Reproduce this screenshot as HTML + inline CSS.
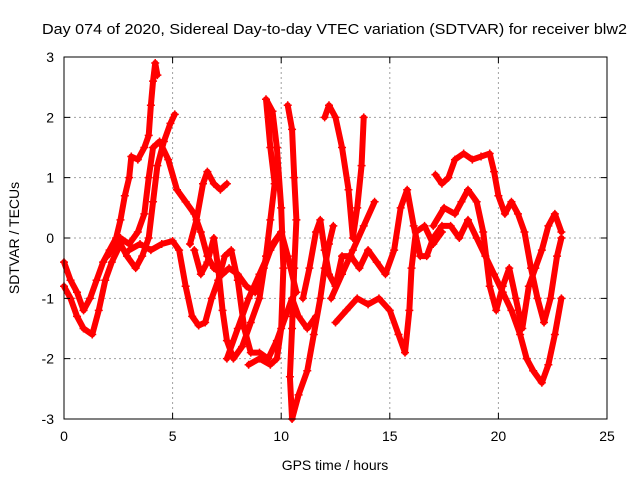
<!DOCTYPE html>
<html><head><meta charset="utf-8"><style>
html,body{margin:0;padding:0;background:#fff;}
svg{display:block;font-family:"Liberation Sans",sans-serif;}
</style></head><body>
<svg id="chart" width="640" height="480">
<rect x="0" y="0" width="640" height="480" fill="#fff"/>
<text x="42" y="34" font-size="15" textLength="585" lengthAdjust="spacingAndGlyphs">Day 074 of 2020, Sidereal Day-to-day VTEC variation (SDTVAR) for receiver blw2</text>
<text x="335" y="470" font-size="14" text-anchor="middle">GPS time / hours</text>
<text transform="translate(19,238) rotate(-90)" font-size="14" text-anchor="middle">SDTVAR / TECUs</text>
<g id="grid"></g>
<g id="marks"></g>
<rect x="64" y="57" width="543" height="362" fill="none" stroke="#000" stroke-width="1"/>
<g id="ticks"></g>
</svg>
<script>
const xTicks=[0,5,10,15,20,25];
const yTicks=[3,2,1,0,-1,-2,-3];
const s1=[[0,-0.4],[0.3,-0.7],[0.6,-0.9],[0.9,-1.2],[1.2,-1.0],[1.5,-0.7],[1.8,-0.4],[2.1,-0.2],[2.4,0],[2.6,0.3],[2.8,0.7],[3.0,1.0],[3.1,1.35],[3.4,1.3],[3.7,1.5],[3.9,1.7],[4.0,2.2],[4.1,2.6],[4.2,2.9],[4.3,2.7]];
const s2=[[0,-0.8],[0.3,-1.0],[0.6,-1.3],[0.9,-1.5],[1.3,-1.6],[1.6,-1.2],[1.9,-0.7],[2.2,-0.4],[2.6,-0.1],[2.9,-0.3],[3.3,-0.5],[3.6,-0.3],[3.9,0],[4.1,0.6],[4.3,1.2],[4.6,1.6],[4.9,1.9],[5.1,2.05]];
const s3=[[2.0,-0.3],[2.6,0],[3.0,-0.1],[3.4,0.1],[3.7,0.4],[3.9,1.0],[4.1,1.5],[4.4,1.6],[4.8,1.3],[5.2,0.8],[5.6,0.6],[6.0,0.4],[6.3,0.1],[6.6,-0.3],[6.9,-0.5],[7.3,-0.6],[7.6,-0.5],[8.0,-0.6],[8.4,-0.8],[8.8,-0.9],[9.2,-0.5],[9.6,-0.1],[10.0,0.1],[10.3,-0.3],[10.7,-0.9]];
const s4=[[3.0,-0.2],[3.5,-0.1],[4.0,-0.2],[4.5,-0.1],[5.0,-0.05],[5.3,-0.2],[5.6,-0.8],[5.9,-1.3],[6.2,-1.45],[6.5,-1.4],[6.8,-1.0],[7.1,-0.7],[7.4,-0.3],[7.7,-0.2],[8.0,-0.7],[8.3,-1.5],[8.6,-1.9],[9.0,-1.9],[9.4,-2.0],[9.8,-1.7],[10.2,-1.3],[10.5,-1.0],[10.8,-1.3],[11.2,-1.5],[11.6,-1.3]];
const s5=[[5.8,-0.1],[6.1,0.3],[6.4,0.9],[6.6,1.1],[6.9,0.9],[7.2,0.8],[7.5,0.9]];
const s6=[[6.0,-0.2],[6.3,-0.6],[6.6,-0.4],[6.9,0],[7.1,-0.5],[7.3,-1.2],[7.5,-1.7],[7.8,-2.0],[8.2,-1.8],[8.6,-1.4],[9.0,-1.0],[9.3,-0.3],[9.5,0.3],[9.7,0.9],[9.5,1.5],[9.3,2.3],[9.6,2.1],[9.8,1.5],[10.0,0.5],[10.1,-0.5],[10.0,-1.5],[9.8,-2.0],[9.5,-2.1],[9.0,-2.0],[8.5,-2.1]];
const s7=[[10.3,2.2],[10.5,1.8],[10.6,1.0],[10.7,0.3],[10.6,-0.5],[10.5,-1.5],[10.4,-2.3],[10.5,-3.0],[10.8,-2.6],[11.2,-2.2],[11.5,-1.6],[11.8,-1.0],[12.0,-0.5],[12.2,-0.1],[12.4,0.2]];
const s8=[[11.0,-1.0],[11.3,-0.5],[11.6,0.1],[11.8,0.3],[12.0,-0.2],[12.2,-0.6],[12.5,-0.8],[12.8,-0.3],[13.2,-0.3],[13.6,-0.5],[14.0,-0.2],[14.4,-0.4],[14.8,-0.6],[15.2,-0.2],[15.5,0.5],[15.8,0.8],[16.1,0.2],[16.4,-0.3],[16.7,-0.3],[17.0,0.0],[17.4,0.2],[17.8,0.2],[18.2,0],[18.6,0.3],[19.0,0.0],[19.4,-0.3],[19.8,-0.6],[20.2,-0.9],[20.6,-1.2],[21.0,-1.6],[21.3,-2.0],[21.6,-2.2],[22.0,-2.4],[22.3,-2.1],[22.6,-1.6],[22.9,-1.0]];
const s9=[[12.0,2.0],[12.2,2.2],[12.5,2.0],[12.8,1.5],[13.1,0.8],[13.3,0.0],[13.5,0.5],[13.7,1.2],[13.8,2.0]];
const s10=[[12.3,-1.0],[12.8,-0.6],[13.3,-0.2],[13.8,0.2],[14.3,0.6]];
const s11=[[12.5,-1.4],[13.0,-1.2],[13.5,-1.0],[14.0,-1.1],[14.5,-1.0],[15.0,-1.2],[15.4,-1.6],[15.7,-1.9],[15.9,-1.2],[16.0,-0.5],[16.2,0.1],[16.6,0.2],[17.0,-0.1],[17.4,0.1]];
const s12=[[17.1,1.05],[17.4,0.9],[17.7,1.0],[18.0,1.3],[18.4,1.4],[18.8,1.3],[19.2,1.35],[19.6,1.4],[19.8,1.1],[20.0,0.7],[20.3,0.4],[20.6,0.6],[20.9,0.4],[21.2,0.1],[21.5,-0.5],[21.8,-1.0],[22.1,-1.4],[22.4,-1.0],[22.7,-0.3],[22.9,0.0]];
const s13=[[17.0,0.2],[17.5,0.5],[18.0,0.4],[18.3,0.6],[18.6,0.8],[19.0,0.6],[19.3,0.1],[19.6,-0.8],[19.9,-1.2],[20.2,-0.8],[20.5,-0.5],[20.8,-1.0],[21.1,-1.5],[21.4,-0.8],[21.7,-0.5],[22.0,-0.2],[22.3,0.2],[22.6,0.4],[22.9,0.1]];
const s14=[[7.5,-2.0],[8.0,-1.5],[8.5,-1.0],[9.0,-0.6],[9.5,-0.2],[10.0,0.1]];
const series=[s1,s2,s3,s4,s5,s6,s7,s8,s9,s10,s11,s12,s13,s14];

const X0=64,X1=607,Y0=419,Y1=57;
function xs(h){return X0+(h-0)/(25-0)*(X1-X0);}
function ys(v){return Y0-(v+3)/6*(Y0-Y1);}
const NS='http://www.w3.org/2000/svg';
const grid=document.getElementById('grid'),ticks=document.getElementById('ticks'),marks=document.getElementById('marks');
function mk(tag,attrs,parent){const e=document.createElementNS(NS,tag);for(const k in attrs)e.setAttribute(k,attrs[k]);parent.appendChild(e);return e;}
xTicks.forEach(t=>{
  const x=xs(t);
  if(t>0&&t<25){const g=mk('line',{x1:x,y1:Y1,x2:x,y2:Y0,stroke:'#a0a0a0','stroke-dasharray':'2,3'},grid);
  
  }
  const tk=mk('path',{d:`M${x},${Y0}v-6M${x},${Y1}v6`,stroke:'#000'},ticks);
  
  
  const l=mk('text',{x:x,y:Y0+22,'font-size':14,'text-anchor':'middle'},ticks);l.textContent=t;
  
  
});
yTicks.forEach(t=>{
  const y=ys(t);
  if(t>-3&&t<3){const g=mk('line',{x1:X0,y1:y,x2:X1,y2:y,stroke:'#a0a0a0','stroke-dasharray':'2,3'},grid);
  
  }
  const tk=mk('path',{d:`M${X0},${y}h6M${X1},${y}h-6`,stroke:'#000'},ticks);
  
  
  const l=mk('text',{x:X0-10,y:y+5,'font-size':14,'text-anchor':'end'},ticks);l.textContent=t;
  
  
});
series.forEach((s,i)=>{
  const p=mk('polyline',{points:s.map(d=>xs(d[0])+','+ys(d[1])).join(' '),fill:'none',stroke:'#ff0000','stroke-width':6,'stroke-linejoin':'round','stroke-linecap':'round'},marks);
  
  
  s.forEach(d=>{
    const m=mk('path',{d:`M${xs(d[0])-4},${ys(d[1])}h8M${xs(d[0])},${ys(d[1])-4}v8`,stroke:'#ff0000','stroke-width':1.5},marks);
    
    
  });
});
</script>
</body></html>
